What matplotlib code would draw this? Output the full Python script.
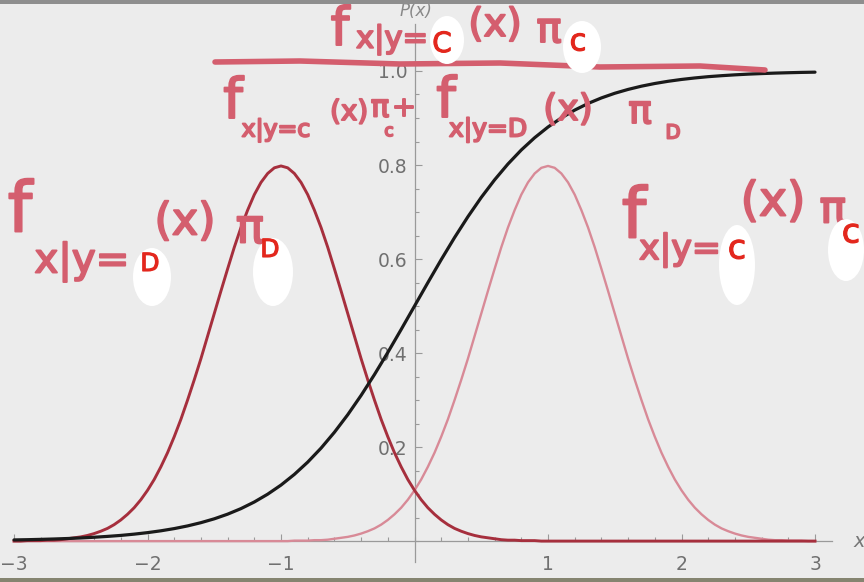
import numpy as np
import matplotlib
matplotlib.use("Agg")
import matplotlib.pyplot as plt
from matplotlib.patches import Ellipse, Rectangle
from matplotlib.lines import Line2D
import matplotlib.patheffects as pe

# x grid of the two bumps, -3 .. 3 in steps of 0.05
xb = np.linspace(-3, 3, 121)
# x grid of the posterior, -3 .. 3 in steps of 0.1
xp = np.linspace(-3, 3, 61)

# f(x|Y=D) pi_D : bump centred at -1
classD = [0.000, 0.000, 0.001, 0.001, 0.001, 0.002, 0.002, 0.003, 0.005, 0.007,
          0.009, 0.012, 0.016, 0.021, 0.027, 0.035, 0.045, 0.057, 0.071, 0.088,
          0.108, 0.131, 0.158, 0.188, 0.222, 0.259, 0.300, 0.343, 0.388, 0.436,
          0.484, 0.532, 0.579, 0.625, 0.667, 0.704, 0.737, 0.763, 0.782, 0.794,
          0.798,
          0.794, 0.782, 0.763, 0.737, 0.704, 0.667, 0.625, 0.579, 0.532, 0.484,
          0.436, 0.388, 0.343, 0.300, 0.259, 0.222, 0.188, 0.158, 0.131, 0.108,
          0.088, 0.071, 0.057, 0.045, 0.035, 0.027, 0.021, 0.016, 0.012, 0.009,
          0.007, 0.005, 0.003, 0.002, 0.002, 0.001, 0.001, 0.001, 0.000, 0.000,
          0.000, 0.000, 0.000, 0.000, 0.000, 0.000, 0.000, 0.000, 0.000, 0.000,
          0.000, 0.000, 0.000, 0.000, 0.000, 0.000, 0.000, 0.000, 0.000, 0.000,
          0.000, 0.000, 0.000, 0.000, 0.000, 0.000, 0.000, 0.000, 0.000, 0.000,
          0.000, 0.000, 0.000, 0.000, 0.000, 0.000, 0.000, 0.000, 0.000, 0.000]

# f(x|Y=C) pi_C : bump centred at +1
classC = [0.000, 0.000, 0.000, 0.000, 0.000, 0.000, 0.000, 0.000, 0.000, 0.000,
          0.000, 0.000, 0.000, 0.000, 0.000, 0.000, 0.000, 0.000, 0.000, 0.000,
          0.000, 0.000, 0.000, 0.000, 0.000, 0.000, 0.000, 0.000, 0.000, 0.000,
          0.000, 0.000, 0.000, 0.000, 0.000, 0.000, 0.000, 0.000, 0.000, 0.000,
          0.000, 0.000, 0.001, 0.001, 0.001, 0.002, 0.002, 0.003, 0.005, 0.007,
          0.009, 0.012, 0.016, 0.021, 0.027, 0.035, 0.045, 0.057, 0.071, 0.088,
          0.108, 0.131, 0.158, 0.188, 0.222, 0.259, 0.300, 0.343, 0.388, 0.436,
          0.484, 0.532, 0.579, 0.625, 0.667, 0.704, 0.737, 0.763, 0.782, 0.794,
          0.798,
          0.794, 0.782, 0.763, 0.737, 0.704, 0.667, 0.625, 0.579, 0.532, 0.484,
          0.436, 0.388, 0.343, 0.300, 0.259, 0.222, 0.188, 0.158, 0.131, 0.108,
          0.088, 0.071, 0.057, 0.045, 0.035, 0.027, 0.021, 0.016, 0.012, 0.009,
          0.007, 0.005, 0.003, 0.002, 0.002, 0.001, 0.001, 0.001, 0.000, 0.000]

# posterior P(x)
posterior = [0.0025, 0.0030, 0.0037, 0.0045, 0.0055, 0.0067, 0.0082, 0.0100, 0.0121, 0.0148,
             0.0180, 0.0219, 0.0266, 0.0323, 0.0392, 0.0474, 0.0573, 0.0691, 0.0832, 0.0998,
             0.1192, 0.1419, 0.1680, 0.1978, 0.2315, 0.2689, 0.3100, 0.3543, 0.4013, 0.4502,
             0.5000, 0.5498, 0.5987, 0.6457, 0.6900, 0.7311, 0.7685, 0.8022, 0.8320, 0.8581,
             0.8808, 0.9002, 0.9168, 0.9309, 0.9427, 0.9526, 0.9608, 0.9677, 0.9734, 0.9781,
             0.9820, 0.9852, 0.9879, 0.9900, 0.9918, 0.9933, 0.9945, 0.9955, 0.9963, 0.9970,
             0.9975]

xTicks = [-3, -2, -1, 1, 2, 3]
xTickLabels = ["\u22123", "\u22122", "\u22121", "1", "2", "3"]
yTicks = [0.2, 0.4, 0.6, 0.8, 1.0]
yTickLabels = ["0.2", "0.4", "0.6", "0.8", "1.0"]

W, H = 864, 582
BG = "#ececec"
INK = "#d45e6e"
RED = "#e3271d"
AXC = "#9a9a9a"

fig = plt.figure(figsize=(W / 100, H / 100), dpi=100, facecolor=BG)
ax = fig.add_axes([0, 0, 1, 1], facecolor=BG)

ax.plot(xb, classC, color="#d88a97", lw=1.7, zorder=3)
ax.plot(xb, classD, color="#a62f3d", lw=2.1, zorder=3)
ax.plot(xp, posterior, color="#1a1a1a", lw=2.3, zorder=4, solid_capstyle="round")

ax.set_xlim(-3.105, 3.367)
ax.set_ylim(-0.087, 1.151)

for s in ["top", "right"]:
    ax.spines[s].set_visible(False)
ax.spines["left"].set_position(("data", 0))
ax.spines["bottom"].set_position(("data", 0))
ax.spines["left"].set_bounds(-0.045, 1.10)
ax.spines["bottom"].set_bounds(-3.0, 3.13)
for s in ["left", "bottom"]:
    ax.spines[s].set_color(AXC)
    ax.spines[s].set_linewidth(0.9)

ax.set_xticks(xTicks, labels=xTickLabels)
ax.set_yticks(yTicks, labels=yTickLabels)
ax.set_xticks(np.arange(-3, 3.01, 0.2), minor=True)
ax.set_yticks(np.arange(0, 1.01, 0.05), minor=True)
ax.tick_params(which="both", direction="in", color=AXC, width=0.8)
ax.tick_params(which="major", length=5)
ax.tick_params(which="minor", length=3)
ax.tick_params(axis="x", pad=10, labelsize=13.5, labelcolor="#707070")
ax.tick_params(axis="y", pad=5, labelsize=13.5, labelcolor="#707070")

ax.text(0.01, 1.127, "P(x)", style="italic", fontsize=12, color="#888888",
        ha="center", va="center")
ax.text(3.33, 0.0, "x", style="italic", fontsize=14, color="#777777",
        ha="center", va="center")


def fp(x, y):
    return x / W, 1 - y / H


def ink(x, y, s, size, color=INK, z=6, thick=1.4):
    fig.text(*fp(x, y), s, fontsize=size, color=color, ha="center", va="center",
             zorder=z, path_effects=[pe.withStroke(linewidth=thick, foreground=color)])


def blob(x, y, w, h, angle=0):
    e = Ellipse(fp(x, y), w / W, h / H, angle=angle, transform=fig.transFigure,
                facecolor="white", edgecolor="none", zorder=7)
    fig.patches.append(e)


# numerator
ink(340, 30, "f", 38)
ink(392, 40, "x|y=", 22)
ink(495, 25, "(x)", 28)
ink(549, 30, "\u03c0", 30)
blob(447, 40, 34, 48)
blob(582, 47, 38, 52)
ink(442, 44, "C", 20, RED, 8, 0.8)
ink(578, 42, "c", 22, RED, 8, 0.8)

# fraction bar
bx = [215, 300, 400, 500, 600, 700, 765]
by = [62, 61, 64, 63, 67, 66, 70]
fig.lines.append(Line2D([v / W for v in bx], [1 - v / H for v in by],
                        transform=fig.transFigure, color=INK, lw=4, zorder=6,
                        solid_capstyle="round"))

# denominator
ink(233, 103, "f", 40)
ink(276, 130, "x|y=c", 17)
ink(349, 112, "(x)", 20)
ink(380, 108, "\u03c0", 22)
ink(389, 131, "c", 12)
ink(404, 108, "+", 20)
ink(446, 102, "f", 40)
ink(488, 130, "x|y=D", 18)
ink(568, 110, "(x)", 26)
ink(640, 112, "\u03c0", 28)
ink(673, 133, "D", 14)

# left term f(x|Y=D) pi_D
ink(20, 212, "f", 50)
ink(82, 262, "x|y=", 29)
ink(185, 222, "(x)", 32)
ink(250, 230, "\u03c0", 34)
blob(152, 277, 38, 58)
blob(273, 272, 40, 68)
ink(150, 264, "D", 18, RED, 8, 0.8)
ink(270, 250, "D", 18, RED, 8, 0.8)

# right term f(x|Y=C) pi_C
ink(634, 218, "f", 50)
ink(680, 250, "x|y=", 25)
ink(773, 203, "(x)", 34)
ink(833, 210, "\u03c0", 32)
blob(737, 265, 36, 80)
blob(846, 250, 36, 62)
ink(737, 249, "c", 24, RED, 8, 0.8)
ink(851, 233, "c", 24, RED, 8, 0.8)

# video frame edges
fig.patches.append(Rectangle((0, 1 - 4 / H), 1, 4 / H, transform=fig.transFigure,
                             facecolor="#8e8e8e", edgecolor="none", zorder=9))
fig.patches.append(Rectangle((0, 0), 1, 4 / H, transform=fig.transFigure,
                             facecolor="#858470", edgecolor="none", zorder=9))

fig.savefig("out.png", dpi=100, facecolor=BG)
